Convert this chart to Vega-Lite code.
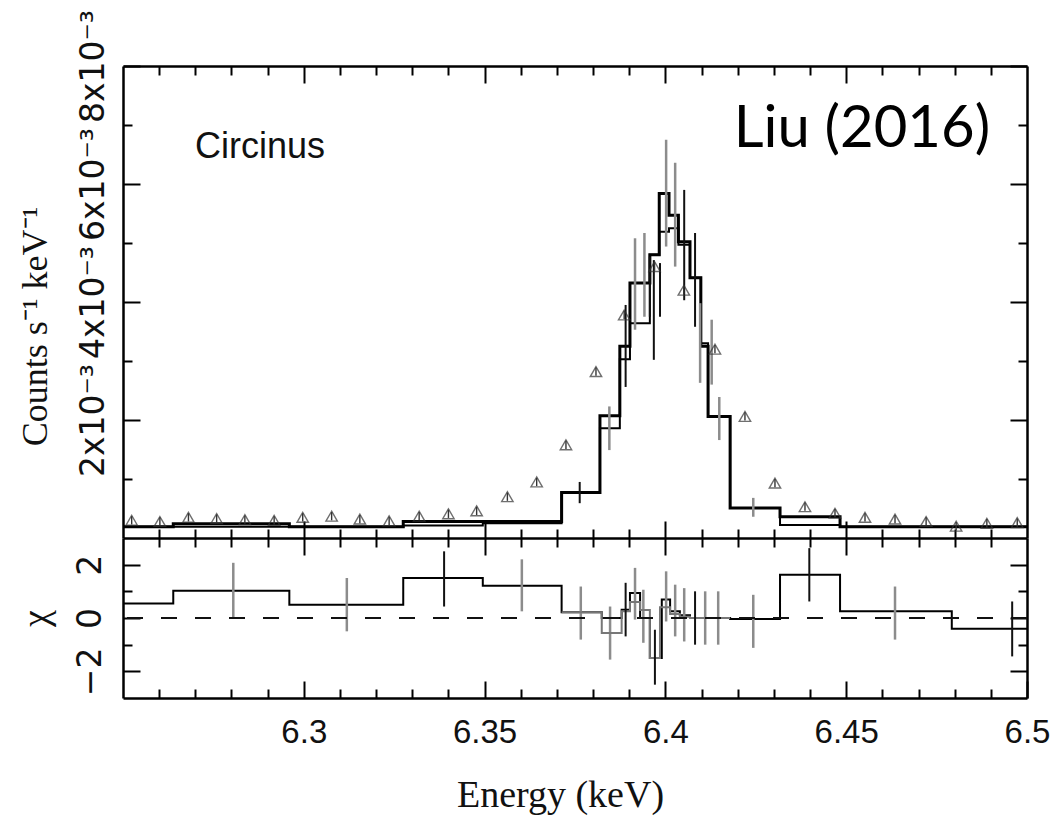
{
  "$schema": "https://vega.github.io/schema/vega-lite/v6.json",
  "width": 904,
  "height": 632,
  "autosize": {"type": "none"},
  "padding": {"left": 123, "top": 66, "right": 31, "bottom": 118},
  "background": "white",
  "config": {
    "view": {"stroke": null},
    "axis": {
      "grid": false,
      "domainColor": "#000",
      "domainWidth": 2.5,
      "tickColor": "#000",
      "tickWidth": 2,
      "labelFont": "Liberation Sans",
      "labelColor": "#111",
      "titleFont": "Liberation Serif",
      "titleColor": "#111",
      "titleFontWeight": "normal",
      "labelFlush": false,
      "labelOverlap": false,
      "labelBound": false
    }
  },
  "datasets": {
    "spec_a": [
      {"energy": 6.25, "rate": 0.00019}, {"energy": 6.2639, "rate": 0.00024}, {"energy": 6.296, "rate": 0.00019},
      {"energy": 6.3275, "rate": 0.00028}, {"energy": 6.3495, "rate": 0.00028}, {"energy": 6.3713, "rate": 0.00077},
      {"energy": 6.3819, "rate": 0.00207}, {"energy": 6.3874, "rate": 0.00325}, {"energy": 6.3902, "rate": 0.00432},
      {"energy": 6.3957, "rate": 0.0048}, {"energy": 6.3983, "rate": 0.00584}, {"energy": 6.401, "rate": 0.00547},
      {"energy": 6.4036, "rate": 0.00502}, {"energy": 6.4068, "rate": 0.00441}, {"energy": 6.4098, "rate": 0.00325},
      {"energy": 6.4118, "rate": 0.00206}, {"energy": 6.4179, "rate": 0.00051}, {"energy": 6.4317, "rate": 0.00036},
      {"energy": 6.4483, "rate": 0.00019}, {"energy": 6.5, "rate": 0.00019}
    ],
    "spec_b": [
      {"energy": 6.25, "rate": 0.00019}, {"energy": 6.3275, "rate": 0.00021}, {"energy": 6.3495, "rate": 0.00025},
      {"energy": 6.3713, "rate": 0.00077}, {"energy": 6.3819, "rate": 0.00186}, {"energy": 6.3874, "rate": 0.00303},
      {"energy": 6.3902, "rate": 0.00364}, {"energy": 6.3957, "rate": 0.0048}, {"energy": 6.3983, "rate": 0.00519},
      {"energy": 6.401, "rate": 0.00525}, {"energy": 6.4036, "rate": 0.00497}, {"energy": 6.4068, "rate": 0.00441},
      {"energy": 6.4098, "rate": 0.0033}, {"energy": 6.4118, "rate": 0.00206}, {"energy": 6.4179, "rate": 0.00051},
      {"energy": 6.4317, "rate": 0.00022}, {"energy": 6.4483, "rate": 0.00019}, {"energy": 6.5, "rate": 0.00019}
    ],
    "err_top_black": [
      {"energy": 6.3763, "lo": 0.00059, "hi": 0.00095}, {"energy": 6.389, "lo": 0.00256, "hi": 0.00395},
      {"energy": 6.3957, "lo": 0.00375, "hi": 0.00477}, {"energy": 6.3968, "lo": 0.00302, "hi": 0.00471},
      {"energy": 6.3985, "lo": 0.00375, "hi": 0.00466}, {"energy": 6.4052, "lo": 0.00403, "hi": 0.0059},
      {"energy": 6.4082, "lo": 0.00358, "hi": 0.00517}
    ],
    "err_top_gray": [
      {"energy": 6.3845, "lo": 0.00149, "hi": 0.00223}, {"energy": 6.3916, "lo": 0.00353, "hi": 0.00508},
      {"energy": 6.3942, "lo": 0.00375, "hi": 0.00517}, {"energy": 6.4002, "lo": 0.00494, "hi": 0.00675},
      {"energy": 6.4027, "lo": 0.0046, "hi": 0.00636}, {"energy": 6.4096, "lo": 0.00263, "hi": 0.00398},
      {"energy": 6.4128, "lo": 0.0026, "hi": 0.0037}, {"energy": 6.4149, "lo": 0.00166, "hi": 0.00239},
      {"energy": 6.4243, "lo": 0.00036, "hi": 0.00068}
    ],
    "triangles": [
      {"energy": 6.2524, "rate": 0.0003, "lo": 0.00023, "hi": 0.00037}, {"energy": 6.2602, "rate": 0.00028, "lo": 0.00021, "hi": 0.00035},
      {"energy": 6.2681, "rate": 0.00035, "lo": 0.00028, "hi": 0.00042}, {"energy": 6.2759, "rate": 0.00033, "lo": 0.00026, "hi": 0.0004},
      {"energy": 6.2837, "rate": 0.00031, "lo": 0.00024, "hi": 0.00038}, {"energy": 6.2918, "rate": 0.0003, "lo": 0.00023, "hi": 0.00037},
      {"energy": 6.2997, "rate": 0.00035, "lo": 0.00028, "hi": 0.00042}, {"energy": 6.3077, "rate": 0.00037, "lo": 0.0003, "hi": 0.00044},
      {"energy": 6.3155, "rate": 0.00032, "lo": 0.00025, "hi": 0.00039}, {"energy": 6.3236, "rate": 0.00029, "lo": 0.00022, "hi": 0.00036},
      {"energy": 6.3319, "rate": 0.00037, "lo": 0.0003, "hi": 0.00044}, {"energy": 6.34, "rate": 0.00041, "lo": 0.00034, "hi": 0.00048},
      {"energy": 6.3478, "rate": 0.00046, "lo": 0.00039, "hi": 0.00053}, {"energy": 6.3563, "rate": 0.0007, "lo": 0.00063, "hi": 0.00077},
      {"energy": 6.3644, "rate": 0.00095, "lo": 0.00088, "hi": 0.00102}, {"energy": 6.3725, "rate": 0.00158, "lo": 0.00151, "hi": 0.00165},
      {"energy": 6.3808, "rate": 0.00282, "lo": 0.00275, "hi": 0.00289}, {"energy": 6.3886, "rate": 0.00378, "lo": 0.00371, "hi": 0.00385},
      {"energy": 6.397, "rate": 0.0046, "lo": 0.00453, "hi": 0.00467}, {"energy": 6.4051, "rate": 0.0042, "lo": 0.00413, "hi": 0.00427},
      {"energy": 6.4137, "rate": 0.0032, "lo": 0.00313, "hi": 0.00327}, {"energy": 6.422, "rate": 0.00206, "lo": 0.00199, "hi": 0.00213},
      {"energy": 6.4303, "rate": 0.00093, "lo": 0.00086, "hi": 0.001}, {"energy": 6.4386, "rate": 0.00053, "lo": 0.00046, "hi": 0.0006},
      {"energy": 6.4469, "rate": 0.00042, "lo": 0.00035, "hi": 0.00049}, {"energy": 6.4552, "rate": 0.00035, "lo": 0.00028, "hi": 0.00042},
      {"energy": 6.4635, "rate": 0.00032, "lo": 0.00025, "hi": 0.00039}, {"energy": 6.4721, "rate": 0.00028, "lo": 0.00021, "hi": 0.00035},
      {"energy": 6.4804, "rate": 0.0002, "lo": 0.00013, "hi": 0.00027}, {"energy": 6.4889, "rate": 0.00025, "lo": 0.00018, "hi": 0.00032},
      {"energy": 6.4973, "rate": 0.00026, "lo": 0.00019, "hi": 0.00033}
    ],
    "res_a": [
      {"energy": 6.25, "chi": 0.54}, {"energy": 6.2639, "chi": 1.02}, {"energy": 6.296, "chi": 0.5},
      {"energy": 6.3275, "chi": 1.5}, {"energy": 6.3495, "chi": 1.21}, {"energy": 6.3713, "chi": 0.22},
      {"energy": 6.3824, "chi": 0.0}, {"energy": 6.3879, "chi": 0.31}, {"energy": 6.3902, "chi": 0.94},
      {"energy": 6.393, "chi": 0.0}, {"energy": 6.3957, "chi": -1.5}, {"energy": 6.399, "chi": 0.69},
      {"energy": 6.4013, "chi": 0.25}, {"energy": 6.404, "chi": 0.1}, {"energy": 6.4068, "chi": 0.0},
      {"energy": 6.4179, "chi": -0.04}, {"energy": 6.4317, "chi": 1.62}, {"energy": 6.4483, "chi": 0.25},
      {"energy": 6.4792, "chi": -0.4}, {"energy": 6.5, "chi": -0.4}
    ],
    "res_b": [
      {"energy": 6.3713, "chi": 0.22}, {"energy": 6.3824, "chi": -0.56}, {"energy": 6.3879, "chi": 0.25},
      {"energy": 6.3902, "chi": 0.6}, {"energy": 6.393, "chi": 0.3}, {"energy": 6.3957, "chi": -1.5},
      {"energy": 6.3985, "chi": 0.4}, {"energy": 6.4013, "chi": 0.15}, {"energy": 6.404, "chi": 0.05},
      {"energy": 6.4068, "chi": 0.0}, {"energy": 6.4179, "chi": 0.0}
    ],
    "err_res_gray": [
      {"energy": 6.2805, "lo": 0.0, "hi": 2.07}, {"energy": 6.3119, "lo": -0.5, "hi": 1.5},
      {"energy": 6.3603, "lo": 0.25, "hi": 2.2}, {"energy": 6.3766, "lo": -0.81, "hi": 1.18},
      {"energy": 6.3847, "lo": -1.56, "hi": 0.43}, {"energy": 6.3916, "lo": -0.06, "hi": 1.88},
      {"energy": 6.3939, "lo": -0.93, "hi": 1.06}, {"energy": 6.4002, "lo": -0.13, "hi": 1.75},
      {"energy": 6.4027, "lo": -0.69, "hi": 1.25}, {"energy": 6.4052, "lo": -0.88, "hi": 1.12},
      {"energy": 6.411, "lo": -1.0, "hi": 1.0}, {"energy": 6.4146, "lo": -1.0, "hi": 1.0},
      {"energy": 6.4243, "lo": -1.12, "hi": 0.87}, {"energy": 6.4635, "lo": -0.81, "hi": 1.18}
    ],
    "err_res_black": [
      {"energy": 6.3388, "lo": 0.43, "hi": 2.5}, {"energy": 6.389, "lo": -0.69, "hi": 1.32},
      {"energy": 6.3971, "lo": -2.5, "hi": -0.44}, {"energy": 6.4082, "lo": -1.0, "hi": 1.0},
      {"energy": 6.4398, "lo": 0.62, "hi": 2.62}, {"energy": 6.4959, "lo": -1.44, "hi": 0.62}
    ]
  },
  "layer": [
    {
      "layer": [
        {
          "data": {"name": "spec_a"},
          "mark": {"type": "line", "interpolate": "step-after", "color": "#000", "strokeWidth": 3},
          "encoding": {
            "x": {"field": "energy", "type": "quantitative", "scale": {"domain": [6.25, 6.5], "nice": false, "zero": false},
              "axis": {"orient": "top", "values": [6.3, 6.35, 6.4, 6.45], "tickSize": -17, "labels": false, "title": null, "domain": true}},
            "y": {"field": "rate", "type": "quantitative", "scale": {"domain": [0, 0.008], "range": [472, 0], "nice": false, "zero": false},
              "axis": {"orient": "left", "values": [0.002, 0.004, 0.006, 0.008], "tickSize": -17, "domain": true,
                "labelExpr": "round(datum.value * 1000) + 'x10⁻³'", "labelAngle": -90, "labelAlign": "center", "labelBaseline": "alphabetic",
                "labelPadding": 37, "labelFontSize": 33, "labelFont": "DejaVu Sans",
                "title": "Counts s⁻¹ keV⁻¹", "titleFontSize": 36, "titleAngle": -90, "titleX": -88, "titleY": 260, "titleAlign": "center", "titleBaseline": "middle"}}
          }
        },
        {
          "data": {"name": "spec_b"},
          "mark": {"type": "line", "interpolate": "step-after", "color": "#000", "strokeWidth": 2},
          "encoding": {
            "x": {"field": "energy", "type": "quantitative",
              "axis": {"orient": "top", "values": [6.26, 6.27, 6.28, 6.29, 6.31, 6.32, 6.33, 6.34, 6.36, 6.37, 6.38, 6.39, 6.41, 6.42, 6.43, 6.44, 6.46, 6.47, 6.48, 6.49], "tickSize": -9, "labels": false, "title": null, "domain": false}},
            "y": {"field": "rate", "type": "quantitative",
              "axis": {"orient": "left", "values": [0.001, 0.003, 0.005, 0.007], "tickSize": -9, "labels": false, "title": null, "domain": false}}
          }
        },
        {
          "data": {"name": "err_top_black"},
          "mark": {"type": "rule", "color": "#111", "strokeWidth": 2},
          "encoding": {
            "x": {"field": "energy", "type": "quantitative",
              "axis": {"orient": "bottom", "offset": -160, "values": [6.3, 6.35, 6.4, 6.45], "tickSize": -17, "labels": false, "title": null, "domain": true}},
            "y": {"field": "lo", "type": "quantitative",
              "axis": {"orient": "right", "values": [0.002, 0.004, 0.006, 0.008], "tickSize": -17, "labels": false, "title": null, "domain": true}},
            "y2": {"field": "hi"}
          }
        },
        {
          "data": {"name": "err_top_gray"},
          "mark": {"type": "rule", "color": "#8c8c8c", "strokeWidth": 2.5},
          "encoding": {
            "x": {"field": "energy", "type": "quantitative",
              "axis": {"orient": "bottom", "offset": -160, "values": [6.26, 6.27, 6.28, 6.29, 6.31, 6.32, 6.33, 6.34, 6.36, 6.37, 6.38, 6.39, 6.41, 6.42, 6.43, 6.44, 6.46, 6.47, 6.48, 6.49], "tickSize": -9, "labels": false, "title": null, "domain": false}},
            "y": {"field": "lo", "type": "quantitative",
              "axis": {"orient": "right", "values": [0.001, 0.003, 0.005, 0.007], "tickSize": -9, "labels": false, "title": null, "domain": false}},
            "y2": {"field": "hi"}
          }
        },
        {
          "data": {"name": "triangles"},
          "mark": {"type": "point", "shape": "triangle-up", "filled": false, "size": 130, "color": "#333", "strokeWidth": 1.4},
          "encoding": {
            "x": {"field": "energy", "type": "quantitative",
              "axis": {"orient": "top", "offset": -472, "values": [6.3, 6.35, 6.4, 6.45], "tickSize": -17, "labels": false, "title": null, "domain": false}},
            "y": {"field": "rate", "type": "quantitative", "axis": null}
          }
        },
        {
          "data": {"name": "triangles"},
          "mark": {"type": "rule", "color": "#333", "strokeWidth": 1.4},
          "encoding": {
            "x": {"field": "energy", "type": "quantitative",
              "axis": {"orient": "top", "offset": -472, "values": [6.26, 6.27, 6.28, 6.29, 6.31, 6.32, 6.33, 6.34, 6.36, 6.37, 6.38, 6.39, 6.41, 6.42, 6.43, 6.44, 6.46, 6.47, 6.48, 6.49], "tickSize": -9, "labels": false, "title": null, "domain": false}},
            "y": {"field": "lo", "type": "quantitative", "axis": null},
            "y2": {"field": "hi"}
          }
        },
        {
          "data": {"values": [{"label": "Circinus"}]},
          "mark": {"type": "text", "font": "Liberation Sans", "fontSize": 36, "align": "left", "baseline": "middle", "color": "#111"},
          "encoding": {
            "x": {"datum": 6.2699, "type": "quantitative", "axis": null},
            "y": {"datum": 0.00663, "type": "quantitative", "axis": null},
            "text": {"field": "label"}
          }
        },
        {
          "data": {"values": [{"label": "Liu (2016)"}]},
          "mark": {"type": "text", "font": "Lato", "fontSize": 58, "align": "right", "baseline": "middle", "color": "#000"},
          "encoding": {
            "x": {"datum": 6.4898, "type": "quantitative", "axis": null},
            "y": {"datum": 0.00692, "type": "quantitative", "axis": null},
            "text": {"field": "label"}
          }
        }
      ],
      "resolve": {"axis": {"x": "independent", "y": "independent"}}
    },
    {
      "layer": [
        {
          "data": {"name": "res_a"},
          "mark": {"type": "line", "interpolate": "step-after", "color": "#000", "strokeWidth": 2},
          "encoding": {
            "x": {"field": "energy", "type": "quantitative",
              "axis": {"orient": "bottom", "values": [6.3, 6.35, 6.4, 6.45, 6.5], "tickSize": -17, "domain": true,
                "labelExpr": "format(datum.value, '.3~f')", "labelFontSize": 33, "labelPadding": 35, "labelBaseline": "top",
                "title": "Energy (keV)", "titleFontSize": 38, "titleX": 437, "titleY": 97, "titleAlign": "center", "titleBaseline": "middle"}},
            "y": {"field": "chi", "type": "quantitative", "scale": {"domain": [-3, 3], "range": [632, 472], "nice": false, "zero": false},
              "axis": {"orient": "left", "values": [-2, 0, 2], "tickSize": -17, "domain": true,
                "labelExpr": "datum.value < 0 ? '−' + abs(datum.value) : '' + datum.value", "labelAngle": -90, "labelAlign": "center", "labelBaseline": "alphabetic",
                "labelPadding": 40, "labelFontSize": 33, "labelFont": "DejaVu Sans",
                "title": "χ", "titleFontSize": 38, "titleAngle": -90, "titleX": -87, "titleY": 552, "titleAlign": "center", "titleBaseline": "middle"}}
          }
        },
        {
          "data": {"name": "err_res_gray"},
          "mark": {"type": "rule", "color": "#8c8c8c", "strokeWidth": 2.5},
          "encoding": {
            "x": {"field": "energy", "type": "quantitative",
              "axis": {"orient": "bottom", "values": [6.26, 6.27, 6.28, 6.29, 6.31, 6.32, 6.33, 6.34, 6.36, 6.37, 6.38, 6.39, 6.41, 6.42, 6.43, 6.44, 6.46, 6.47, 6.48, 6.49], "tickSize": -9, "labels": false, "title": null, "domain": false}},
            "y": {"field": "lo", "type": "quantitative",
              "axis": {"orient": "left", "values": [-1, 1], "tickSize": -9, "labels": false, "title": null, "domain": false}},
            "y2": {"field": "hi"}
          }
        },
        {
          "data": {"name": "res_b"},
          "mark": {"type": "line", "interpolate": "step-after", "color": "#777", "strokeWidth": 2},
          "encoding": {
            "x": {"field": "energy", "type": "quantitative", "axis": null},
            "y": {"field": "chi", "type": "quantitative",
              "axis": {"orient": "right", "values": [-2, 0, 2], "tickSize": -17, "labels": false, "title": null, "domain": true}}
          }
        },
        {
          "data": {"name": "err_res_black"},
          "mark": {"type": "rule", "color": "#111", "strokeWidth": 2},
          "encoding": {
            "x": {"field": "energy", "type": "quantitative", "axis": null},
            "y": {"field": "lo", "type": "quantitative",
              "axis": {"orient": "right", "values": [-1, 1], "tickSize": -9, "labels": false, "title": null, "domain": false}},
            "y2": {"field": "hi"}
          }
        },
        {
          "data": {"values": [{"ref": "zero"}]},
          "mark": {"type": "rule", "color": "#111", "strokeWidth": 2, "strokeDash": [16, 18]},
          "encoding": {
            "y": {"datum": 0, "type": "quantitative", "axis": null}
          }
        }
      ],
      "resolve": {"axis": {"x": "independent", "y": "independent"}}
    }
  ],
  "resolve": {"scale": {"y": "independent"}, "axis": {"x": "independent", "y": "independent"}}
}
